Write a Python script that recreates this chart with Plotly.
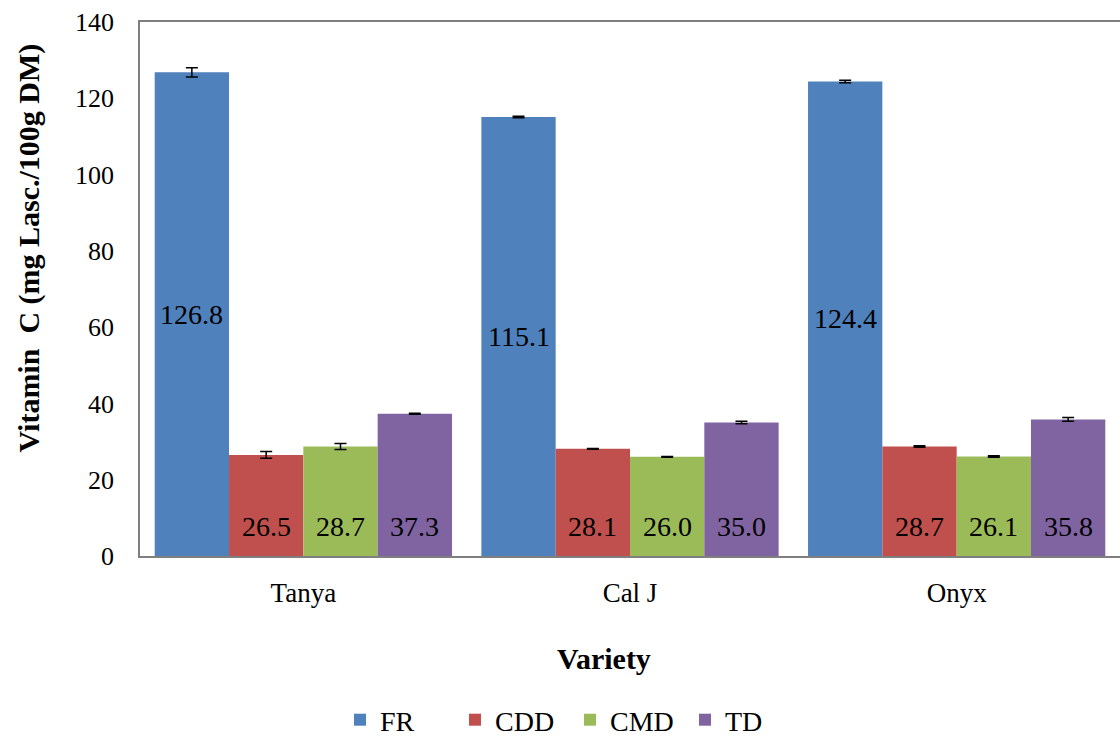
import plotly.graph_objects as go

varieties = ["Tanya", "Cal J", "Onyx"]
series = ["FR", "CDD", "CMD", "TD"]
fr = [126.8, 115.1, 124.4]
cdd = [26.5, 28.1, 28.7]
cmd = [28.7, 26.0, 26.1]
td = [37.3, 35.0, 35.8]
fr_err = [1.2, 0.2, 0.3]
cdd_err = [0.9, 0.1, 0.2]
cmd_err = [0.8, 0.1, 0.2]
td_err = [0.15, 0.3, 0.5]
colors = ["#4F81BD", "#C0504D", "#9BBB59", "#8064A2"]

values = [fr, cdd, cmd, td]
errors = [fr_err, cdd_err, cmd_err, td_err]

FONT = "Liberation Serif"
BARGAP = 0.09
n_series = len(series)
bar_w = (1 - BARGAP) / n_series

fig = go.Figure()
for name, vals, errs, col in zip(series, values, errors, colors):
    fig.add_trace(go.Bar(
        name=name, x=varieties, y=vals,
        marker=dict(color=col, line=dict(width=0)),
        error_y=dict(type="data", array=errs, visible=True,
                     color="black", thickness=1.5, width=6),
    ))

# value labels: tall FR bars labelled at mid-height, the others near the base
labels = []
for k, vals in enumerate(values):
    for i, v in enumerate(vals):
        xpos = i + (k - (n_series - 1) / 2) * bar_w
        if k == 0:
            labels.append(dict(x=xpos, y=v / 2, yanchor="middle", yshift=0))
        else:
            labels.append(dict(x=xpos, y=0, yanchor="bottom", yshift=12))
        labels[-1].update(text=f"{v:.1f}", xref="x", yref="y", showarrow=False,
                          xanchor="center",
                          font=dict(family=FONT, size=28, color="black"))

fig.update_layout(
    width=1120, height=740,
    margin=dict(l=140, r=0, t=22, b=184),
    paper_bgcolor="white", plot_bgcolor="white",
    barmode="group", bargap=BARGAP, bargroupgap=0,
    font=dict(family=FONT, size=26, color="black"),
    showlegend=True,
    legend=dict(orientation="h", xref="container", yref="container",
                xanchor="left", yanchor="middle",
                x=340 / 1120, y=(740 - 720) / 740,
                font=dict(family=FONT, size=28),
                entrywidth=70, itemwidth=30, traceorder="normal"),
    xaxis=dict(range=[-0.5, 2.5], showline=True, linecolor="#7f7f7f",
               linewidth=1.5, mirror=True, ticks="", showgrid=False,
               automargin=False,
               tickfont=dict(family=FONT, size=27), ticklabelstandoff=12),
    yaxis=dict(range=[0, 140], dtick=20, showline=True, linecolor="#7f7f7f",
               linewidth=1.5, mirror=False, ticks="", showgrid=False,
               zeroline=False, automargin=False,
               tickfont=dict(family=FONT, size=26), ticklabelstandoff=19),
    annotations=labels + [
        dict(text="<b>Variety</b>", xref="paper", yref="paper",
             x=(604 - 140) / 980, y=(556 - 658) / 534, showarrow=False,
             font=dict(family=FONT, size=30), xanchor="center", yanchor="middle"),
        dict(text="<b>Vitamin  C (mg Lasc./100g DM)</b>", xref="paper", yref="paper",
             x=(28.5 - 140) / 980, y=(556 - 248) / 534, textangle=-90, showarrow=False,
             font=dict(family=FONT, size=30), xanchor="center", yanchor="middle"),
    ],
)

fig.write_html("out.html")
